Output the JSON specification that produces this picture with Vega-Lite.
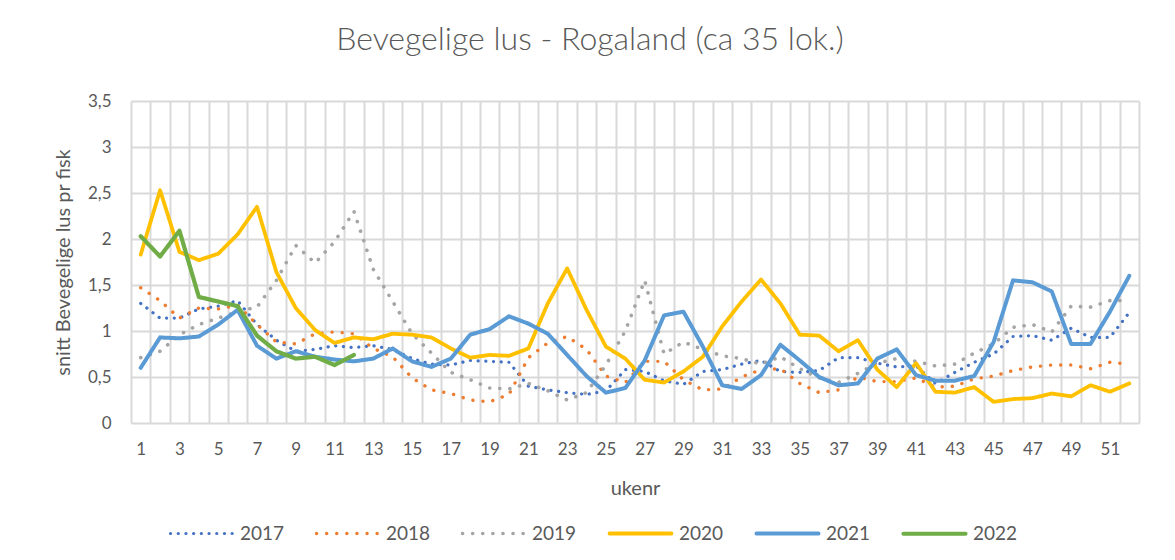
{
  "$schema": "https://vega.github.io/schema/vega-lite/v6.json",
  "width": 1008,
  "height": 322,
  "autosize": {"type": "none"},
  "padding": {"left": 131, "top": 101, "right": 36, "bottom": 137},
  "background": "white",
  "config": {"view": {"stroke": null}, "font": "Lato"},
  "title": {"text": "Bevegelige lus - Rogaland (ca 35 lok.)", "fontSize": 32, "font": "Lato", "fontWeight": 300, "color": "#595959", "anchor": "middle", "dx": -45, "offset": 35},
  "data": {"values": [
    {"year":"2017","week":1,"value":1.30},{"year":"2017","week":2,"value":1.14},{"year":"2017","week":3,"value":1.14},{"year":"2017","week":4,"value":1.24},{"year":"2017","week":5,"value":1.27},{"year":"2017","week":6,"value":1.33},{"year":"2017","week":7,"value":1.07},{"year":"2017","week":8,"value":0.90},{"year":"2017","week":9,"value":0.78},{"year":"2017","week":10,"value":0.80},{"year":"2017","week":11,"value":0.84},{"year":"2017","week":12,"value":0.82},{"year":"2017","week":13,"value":0.84},{"year":"2017","week":14,"value":0.80},{"year":"2017","week":15,"value":0.70},{"year":"2017","week":16,"value":0.64},{"year":"2017","week":17,"value":0.63},{"year":"2017","week":18,"value":0.68},{"year":"2017","week":19,"value":0.67},{"year":"2017","week":20,"value":0.66},{"year":"2017","week":21,"value":0.40},{"year":"2017","week":22,"value":0.36},{"year":"2017","week":23,"value":0.33},{"year":"2017","week":24,"value":0.31},{"year":"2017","week":25,"value":0.35},{"year":"2017","week":26,"value":0.58},{"year":"2017","week":27,"value":0.56},{"year":"2017","week":28,"value":0.46},{"year":"2017","week":29,"value":0.42},{"year":"2017","week":30,"value":0.56},{"year":"2017","week":31,"value":0.58},{"year":"2017","week":32,"value":0.64},{"year":"2017","week":33,"value":0.68},{"year":"2017","week":34,"value":0.56},{"year":"2017","week":35,"value":0.55},{"year":"2017","week":36,"value":0.57},{"year":"2017","week":37,"value":0.71},{"year":"2017","week":38,"value":0.71},{"year":"2017","week":39,"value":0.65},{"year":"2017","week":40,"value":0.61},{"year":"2017","week":41,"value":0.62},{"year":"2017","week":42,"value":0.43},{"year":"2017","week":43,"value":0.55},{"year":"2017","week":44,"value":0.66},{"year":"2017","week":45,"value":0.75},{"year":"2017","week":46,"value":0.94},{"year":"2017","week":47,"value":0.95},{"year":"2017","week":48,"value":0.90},{"year":"2017","week":49,"value":1.03},{"year":"2017","week":50,"value":0.93},{"year":"2017","week":51,"value":0.93},{"year":"2017","week":52,"value":1.20},
    {"year":"2018","week":1,"value":1.47},{"year":"2018","week":2,"value":1.33},{"year":"2018","week":3,"value":1.14},{"year":"2018","week":4,"value":1.25},{"year":"2018","week":5,"value":1.24},{"year":"2018","week":6,"value":1.28},{"year":"2018","week":7,"value":1.07},{"year":"2018","week":8,"value":0.88},{"year":"2018","week":9,"value":0.86},{"year":"2018","week":10,"value":0.97},{"year":"2018","week":11,"value":0.99},{"year":"2018","week":12,"value":0.97},{"year":"2018","week":13,"value":0.81},{"year":"2018","week":14,"value":0.72},{"year":"2018","week":15,"value":0.49},{"year":"2018","week":16,"value":0.36},{"year":"2018","week":17,"value":0.32},{"year":"2018","week":18,"value":0.25},{"year":"2018","week":19,"value":0.23},{"year":"2018","week":20,"value":0.31},{"year":"2018","week":21,"value":0.71},{"year":"2018","week":22,"value":0.87},{"year":"2018","week":23,"value":0.94},{"year":"2018","week":24,"value":0.80},{"year":"2018","week":25,"value":0.51},{"year":"2018","week":26,"value":0.44},{"year":"2018","week":27,"value":0.67},{"year":"2018","week":28,"value":0.67},{"year":"2018","week":29,"value":0.47},{"year":"2018","week":30,"value":0.36},{"year":"2018","week":31,"value":0.37},{"year":"2018","week":32,"value":0.50},{"year":"2018","week":33,"value":0.58},{"year":"2018","week":34,"value":0.59},{"year":"2018","week":35,"value":0.43},{"year":"2018","week":36,"value":0.33},{"year":"2018","week":37,"value":0.36},{"year":"2018","week":38,"value":0.50},{"year":"2018","week":39,"value":0.45},{"year":"2018","week":40,"value":0.45},{"year":"2018","week":41,"value":0.49},{"year":"2018","week":42,"value":0.39},{"year":"2018","week":43,"value":0.40},{"year":"2018","week":44,"value":0.48},{"year":"2018","week":45,"value":0.51},{"year":"2018","week":46,"value":0.57},{"year":"2018","week":47,"value":0.61},{"year":"2018","week":48,"value":0.63},{"year":"2018","week":49,"value":0.63},{"year":"2018","week":50,"value":0.59},{"year":"2018","week":51,"value":0.66},{"year":"2018","week":52,"value":0.64},
    {"year":"2019","week":1,"value":0.71},{"year":"2019","week":2,"value":0.78},{"year":"2019","week":3,"value":0.96},{"year":"2019","week":4,"value":1.07},{"year":"2019","week":5,"value":1.14},{"year":"2019","week":6,"value":1.21},{"year":"2019","week":7,"value":1.26},{"year":"2019","week":8,"value":1.55},{"year":"2019","week":9,"value":1.93},{"year":"2019","week":10,"value":1.74},{"year":"2019","week":11,"value":1.97},{"year":"2019","week":12,"value":2.30},{"year":"2019","week":13,"value":1.67},{"year":"2019","week":14,"value":1.32},{"year":"2019","week":15,"value":0.97},{"year":"2019","week":16,"value":0.76},{"year":"2019","week":17,"value":0.55},{"year":"2019","week":18,"value":0.47},{"year":"2019","week":19,"value":0.38},{"year":"2019","week":20,"value":0.37},{"year":"2019","week":21,"value":0.43},{"year":"2019","week":22,"value":0.35},{"year":"2019","week":23,"value":0.25},{"year":"2019","week":24,"value":0.33},{"year":"2019","week":25,"value":0.63},{"year":"2019","week":26,"value":1.00},{"year":"2019","week":27,"value":1.55},{"year":"2019","week":28,"value":0.75},{"year":"2019","week":29,"value":0.88},{"year":"2019","week":30,"value":0.80},{"year":"2019","week":31,"value":0.73},{"year":"2019","week":32,"value":0.70},{"year":"2019","week":33,"value":0.64},{"year":"2019","week":34,"value":0.72},{"year":"2019","week":35,"value":0.59},{"year":"2019","week":36,"value":0.49},{"year":"2019","week":37,"value":0.44},{"year":"2019","week":38,"value":0.54},{"year":"2019","week":39,"value":0.65},{"year":"2019","week":40,"value":0.70},{"year":"2019","week":41,"value":0.67},{"year":"2019","week":42,"value":0.62},{"year":"2019","week":43,"value":0.64},{"year":"2019","week":44,"value":0.76},{"year":"2019","week":45,"value":0.86},{"year":"2019","week":46,"value":1.04},{"year":"2019","week":47,"value":1.07},{"year":"2019","week":48,"value":0.99},{"year":"2019","week":49,"value":1.27},{"year":"2019","week":50,"value":1.26},{"year":"2019","week":51,"value":1.33},{"year":"2019","week":52,"value":1.33},
    {"year":"2020","week":1,"value":1.83},{"year":"2020","week":2,"value":2.53},{"year":"2020","week":3,"value":1.86},{"year":"2020","week":4,"value":1.77},{"year":"2020","week":5,"value":1.84},{"year":"2020","week":6,"value":2.05},{"year":"2020","week":7,"value":2.35},{"year":"2020","week":8,"value":1.64},{"year":"2020","week":9,"value":1.25},{"year":"2020","week":10,"value":1.01},{"year":"2020","week":11,"value":0.87},{"year":"2020","week":12,"value":0.93},{"year":"2020","week":13,"value":0.91},{"year":"2020","week":14,"value":0.97},{"year":"2020","week":15,"value":0.96},{"year":"2020","week":16,"value":0.93},{"year":"2020","week":17,"value":0.81},{"year":"2020","week":18,"value":0.71},{"year":"2020","week":19,"value":0.74},{"year":"2020","week":20,"value":0.73},{"year":"2020","week":21,"value":0.81},{"year":"2020","week":22,"value":1.30},{"year":"2020","week":23,"value":1.68},{"year":"2020","week":24,"value":1.23},{"year":"2020","week":25,"value":0.83},{"year":"2020","week":26,"value":0.70},{"year":"2020","week":27,"value":0.47},{"year":"2020","week":28,"value":0.44},{"year":"2020","week":29,"value":0.56},{"year":"2020","week":30,"value":0.72},{"year":"2020","week":31,"value":1.05},{"year":"2020","week":32,"value":1.32},{"year":"2020","week":33,"value":1.56},{"year":"2020","week":34,"value":1.30},{"year":"2020","week":35,"value":0.96},{"year":"2020","week":36,"value":0.95},{"year":"2020","week":37,"value":0.78},{"year":"2020","week":38,"value":0.90},{"year":"2020","week":39,"value":0.58},{"year":"2020","week":40,"value":0.39},{"year":"2020","week":41,"value":0.65},{"year":"2020","week":42,"value":0.34},{"year":"2020","week":43,"value":0.33},{"year":"2020","week":44,"value":0.39},{"year":"2020","week":45,"value":0.23},{"year":"2020","week":46,"value":0.26},{"year":"2020","week":47,"value":0.27},{"year":"2020","week":48,"value":0.32},{"year":"2020","week":49,"value":0.29},{"year":"2020","week":50,"value":0.41},{"year":"2020","week":51,"value":0.34},{"year":"2020","week":52,"value":0.43},
    {"year":"2021","week":1,"value":0.60},{"year":"2021","week":2,"value":0.93},{"year":"2021","week":3,"value":0.92},{"year":"2021","week":4,"value":0.94},{"year":"2021","week":5,"value":1.07},{"year":"2021","week":6,"value":1.23},{"year":"2021","week":7,"value":0.84},{"year":"2021","week":8,"value":0.70},{"year":"2021","week":9,"value":0.78},{"year":"2021","week":10,"value":0.72},{"year":"2021","week":11,"value":0.69},{"year":"2021","week":12,"value":0.67},{"year":"2021","week":13,"value":0.70},{"year":"2021","week":14,"value":0.81},{"year":"2021","week":15,"value":0.67},{"year":"2021","week":16,"value":0.61},{"year":"2021","week":17,"value":0.70},{"year":"2021","week":18,"value":0.96},{"year":"2021","week":19,"value":1.02},{"year":"2021","week":20,"value":1.16},{"year":"2021","week":21,"value":1.08},{"year":"2021","week":22,"value":0.97},{"year":"2021","week":23,"value":0.74},{"year":"2021","week":24,"value":0.51},{"year":"2021","week":25,"value":0.33},{"year":"2021","week":26,"value":0.38},{"year":"2021","week":27,"value":0.68},{"year":"2021","week":28,"value":1.17},{"year":"2021","week":29,"value":1.21},{"year":"2021","week":30,"value":0.83},{"year":"2021","week":31,"value":0.41},{"year":"2021","week":32,"value":0.37},{"year":"2021","week":33,"value":0.52},{"year":"2021","week":34,"value":0.85},{"year":"2021","week":35,"value":0.68},{"year":"2021","week":36,"value":0.50},{"year":"2021","week":37,"value":0.41},{"year":"2021","week":38,"value":0.43},{"year":"2021","week":39,"value":0.70},{"year":"2021","week":40,"value":0.80},{"year":"2021","week":41,"value":0.52},{"year":"2021","week":42,"value":0.46},{"year":"2021","week":43,"value":0.46},{"year":"2021","week":44,"value":0.51},{"year":"2021","week":45,"value":0.88},{"year":"2021","week":46,"value":1.55},{"year":"2021","week":47,"value":1.53},{"year":"2021","week":48,"value":1.43},{"year":"2021","week":49,"value":0.86},{"year":"2021","week":50,"value":0.86},{"year":"2021","week":51,"value":1.21},{"year":"2021","week":52,"value":1.60},
    {"year":"2022","week":1,"value":2.03},{"year":"2022","week":2,"value":1.81},{"year":"2022","week":3,"value":2.09},{"year":"2022","week":4,"value":1.37},{"year":"2022","week":5,"value":1.32},{"year":"2022","week":6,"value":1.27},{"year":"2022","week":7,"value":0.95},{"year":"2022","week":8,"value":0.78},{"year":"2022","week":9,"value":0.70},{"year":"2022","week":10,"value":0.72},{"year":"2022","week":11,"value":0.63},{"year":"2022","week":12,"value":0.74}
  ]},
  "mark": {"type": "line", "strokeCap": "round", "strokeJoin": "round"},
  "encoding": {
    "x": {
      "field": "week", "type": "quantitative",
      "scale": {"domain": [0.5, 52.5], "nice": false, "zero": false},
      "axis": {
        "title": "ukenr", "titleFont": "Lato", "titleFontSize": 20, "titleFontWeight": "normal", "titleColor": "#595959", "titlePadding": 21,
        "values": [0.5,1.5,2.5,3.5,4.5,5.5,6.5,7.5,8.5,9.5,10.5,11.5,12.5,13.5,14.5,15.5,16.5,17.5,18.5,19.5,20.5,21.5,22.5,23.5,24.5,25.5,26.5,27.5,28.5,29.5,30.5,31.5,32.5,33.5,34.5,35.5,36.5,37.5,38.5,39.5,40.5,41.5,42.5,43.5,44.5,45.5,46.5,47.5,48.5,49.5,50.5,51.5,52.5],
        "labelExpr": "(datum.value < 52 && (datum.value + 0.5) % 2 == 1) ? toString(datum.value + 0.5) : ''",
        "labelOffset": 9.69, "labelOverlap": false, "labelFlush": false, "labelPadding": 18,
        "labelFont": "Lato", "labelFontSize": 17, "labelColor": "#595959",
        "grid": true, "gridColor": "#d9d9d9", "gridWidth": 2,
        "ticks": false, "domain": false
      }
    },
    "y": {
      "field": "value", "type": "quantitative",
      "scale": {"domain": [0, 3.5], "nice": false},
      "axis": {
        "title": "snitt Bevegelige lus pr fisk", "titleFont": "Lato", "titleFontSize": 20, "titleFontWeight": "normal", "titleColor": "#595959", "titlePadding": 14,
        "values": [0, 0.5, 1, 1.5, 2, 2.5, 3, 3.5],
        "labelExpr": "replace(toString(datum.value), '.', ',')",
        "labelFont": "Lato", "labelFontSize": 17, "labelColor": "#595959", "labelPadding": 20,
        "grid": true, "gridColor": "#d9d9d9", "gridWidth": 2,
        "ticks": false, "domain": false
      }
    },
    "color": {
      "field": "year", "type": "nominal",
      "scale": {"domain": ["2017","2018","2019","2020","2021","2022"], "range": ["#4472C4","#ED7D31","#A5A5A5","#FFC000","#5B9BD5","#70AD47"]},
      "legend": {
        "title": null, "orient": "none", "direction": "horizontal", "columns": 6,
        "legendX": 37, "legendY": 399,
        "symbolType": "stroke", "symbolSize": 3844, "symbolStrokeWidth": 4,
        "labelFont": "Lato", "labelFontSize": 19, "labelColor": "#595959", "labelOffset": 5,
        "columnPadding": 24,
        "encode": {"symbols": {"update": {"strokeCap": {"value": "round"}}}}
      }
    },
    "strokeDash": {
      "field": "year", "type": "nominal",
      "scale": {"domain": ["2017","2018","2019","2020","2021","2022"], "range": [[0.1,7.6],[0.1,10],[0.1,10],[1,0],[1,0],[1,0]]}
    },
    "strokeWidth": {
      "field": "year", "type": "nominal",
      "scale": {"domain": ["2017","2018","2019","2020","2021","2022"], "range": [3.2,4.2,4.2,4.5,4.5,4.5]},
      "legend": null
    }
  }
}
